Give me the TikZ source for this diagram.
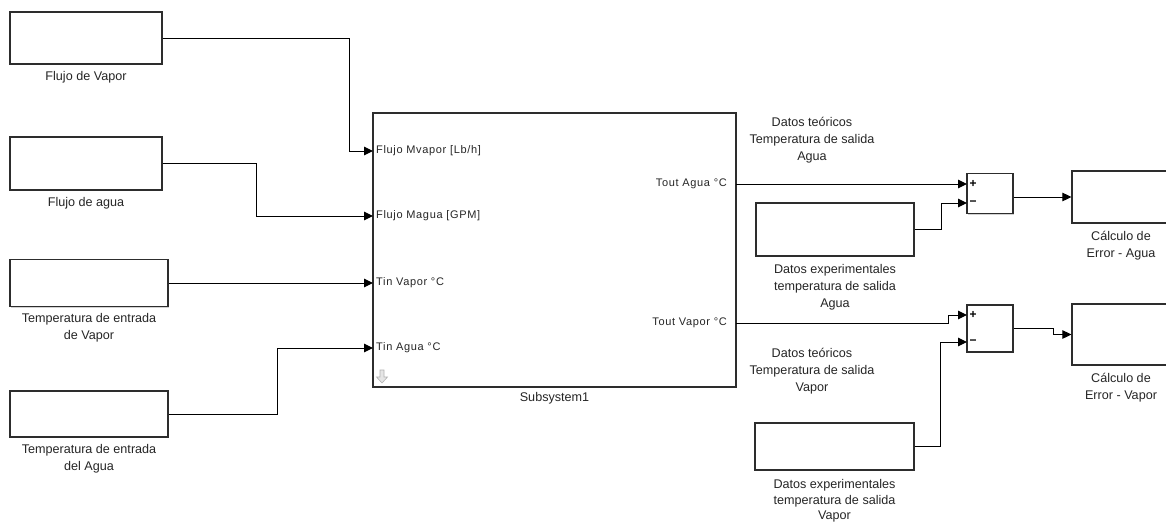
\documentclass[tikz,border=0pt]{standalone}
\usepackage{fontspec}
\setmainfont{Liberation Sans}
\newfontfamily\portfont[LetterSpace=6]{Liberation Sans}
\usetikzlibrary{positioning,arrows.meta,shadows}
\tikzstyle{blk}=[fill=white, draw={rgb,255: red,45; green,45; blue,45}, shape=rectangle, line width=1.2pt, drop shadow={shadow xshift=1.3pt, shadow yshift=-1.3pt, fill=black!35}]
\tikzstyle{lbl}=[font=\fontsize{12.6}{17}\selectfont, text=black!85, align=center, inner sep=1pt]
\tikzstyle{port}=[font=\portfont\fontsize{11}{12}\selectfont, text=black!85, inner sep=3pt]
\tikzstyle{sgn}=[font=\bfseries\fontsize{12}{12}\selectfont, inner xsep=2.5pt, inner ysep=0pt]
\tikzstyle{sig}=[-{Triangle[length=9pt, width=8.5pt]}, draw=black, line width=1pt]

\begin{document}
\begin{tikzpicture}[x=1pt, y=-1pt]
    \clip (0,0) rectangle (1166,522);
    \fill [white] (0,0) rectangle (1166,522);
    % inputs
    \node [style=blk, minimum width=152pt, minimum height=52pt] (0) at (86,38) {};
    \node [style=blk, minimum width=152pt, minimum height=53pt] (1) at (86,163.5) {};
    \node [style=blk, minimum width=158pt, minimum height=47pt] (2) at (89,283) {};
    \node [style=blk, minimum width=158pt, minimum height=46pt] (3) at (89,414) {};
    \node [style=lbl, below=6pt of 0] (4) {Flujo de Vapor};
    \node [style=lbl, below=6pt of 1] (5) {Flujo de agua};
    \node [style=lbl, below=5pt of 2] (6) {Temperatura de entrada\\de Vapor};
    \node [style=lbl, below=6pt of 3] (7) {Temperatura de entrada\\del Agua};
    % subsystem
    \node [style=blk, minimum width=363pt, minimum height=274pt] (8) at (554.5,250) {};
    \node [style=lbl, below=4pt of 8] (9) {Subsystem1};
    \node [style=port, anchor=west] (10) at (373,151) {Flujo Mvapor [Lb/h]};
    \node [style=port, anchor=west] (11) at (373,216) {Flujo Magua [GPM]};
    \node [style=port, anchor=west] (12) at (373,283) {Tin Vapor °C};
    \node [style=port, anchor=west] (13) at (373,348) {Tin Agua °C};
    \node [style=port, anchor=east, inner xsep=9pt] (14) at (736,184) {Tout Agua °C};
    \node [style=port, anchor=east, inner xsep=9pt] (15) at (736,323) {Tout Vapor °C};
    \filldraw [draw=black!30, fill=black!10, line width=0.6pt] (380,370) -- (384,370) -- (384,377) -- (387.5,377) -- (382,383) -- (376.5,377) -- (380,377) -- cycle;
    % agua
    \node [style=lbl] (16) at (812,140) {Datos teóricos\\Temperatura de salida\\Agua};
    \node [style=blk, minimum width=158pt, minimum height=53pt] (17) at (835,229.5) {};
    \node [style=lbl, below=7pt of 17] (18) {Datos experimentales\\temperatura de salida\\Agua};
    \node [style=blk, minimum width=46pt, minimum height=40pt] (19) at (990,193.5) {};
    \node [style=sgn, anchor=west] (20) at (967,184) {+};
    \node [style=sgn, anchor=west] (21) at (967,203) {−};
    \node [style=blk, minimum width=98pt, minimum height=52pt] (22) at (1121,197) {};
    \node [style=lbl, below=6pt of 22] (23) {Cálculo de\\Error - Agua};
    % vapor
    \node [style=lbl] (24) at (812,371) {Datos teóricos\\Temperatura de salida\\Vapor};
    \node [style=blk, minimum width=159pt, minimum height=47pt] (25) at (834.5,446.5) {};
    \node [style=lbl, font=\fontsize{12.6}{15.5}\selectfont, below=8pt of 25] (26) {Datos experimentales\\temperatura de salida\\Vapor};
    \node [style=blk, minimum width=46pt, minimum height=47pt] (27) at (990,328.5) {};
    \node [style=sgn, anchor=west] (30) at (967,315) {+};
    \node [style=sgn, anchor=west] (31) at (967,342) {−};
    \node [style=blk, minimum width=98pt, minimum height=61pt] (28) at (1121,334.5) {};
    \node [style=lbl, below=6pt of 28] (29) {Cálculo de\\Error - Vapor};
    % signals
    \draw [style=sig] (0.east) -- ++(187,0) |- (10.west);
    \draw [style=sig] (1.east) -- ++(94,0) |- (11.west);
    \draw [style=sig] (2.east) -- (12.west);
    \draw [style=sig] (3.east) -- ++(109,0) |- (13.west);
    \draw [style=sig] (14.east) -- (20.west);
    \draw [style=sig] (17.east) -- ++(27,0) |- (21.west);
    \draw [style=sig] (19.east |- 22.west) -- (22.west);
    \draw [style=sig] (15.east) -- ++(212,0) |- (30.west);
    \draw [style=sig] (25.east) -- ++(26,0) |- (31.west);
    \draw [style=sig] (27.east) -- ++(40,0) |- (28.west);
\end{tikzpicture}
\end{document}
